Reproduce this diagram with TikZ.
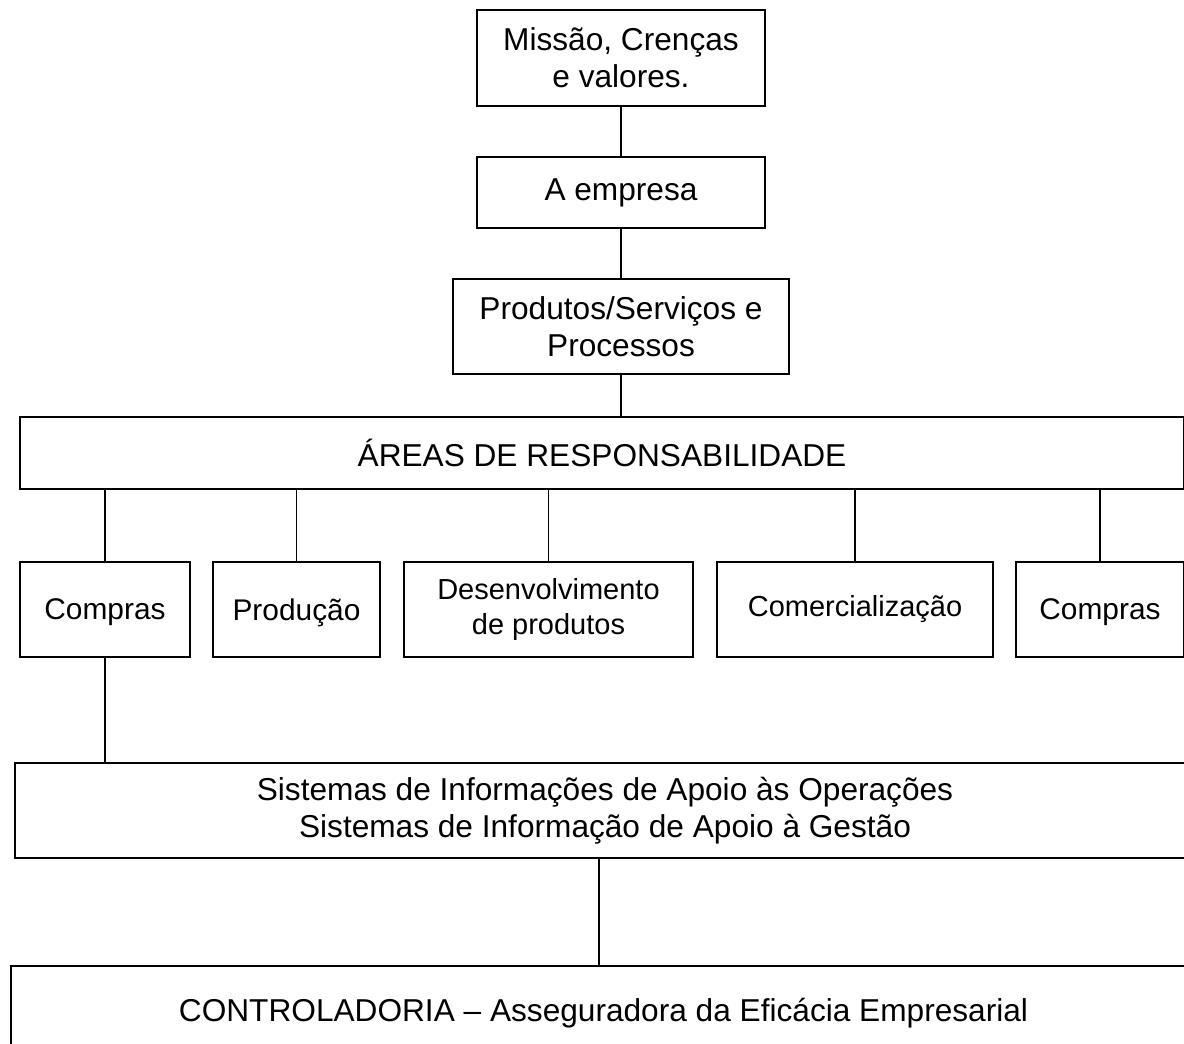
\documentclass[tikz,border=0pt]{standalone}
\usepackage{fontspec}
\setmainfont{Liberation Sans}
\usetikzlibrary{positioning}
\tikzset{conline/.style={draw,line width=1.1pt}}

\begin{document}
\begin{tikzpicture}
  \tikzstyle{abox}=[draw,line width=1.1pt,align=center,inner sep=0pt,font=\fontsize{18}{21}\selectfont]
  \tikzstyle{areabox}=[abox,minimum height=1.9cm,font=\fontsize{17}{19}\selectfont,text depth=0pt]
  \tikzstyle{smallbox}=[abox,minimum height=1.9cm,font=\fontsize{16.5}{19.4}\selectfont]
  \def\chainsep{0.98cm}
  \def\rowy{-12.19}

  \useasboundingbox (0,0) rectangle (23.68,-20.86);

  % top chain
  \node [abox,minimum width=5.76cm,minimum height=1.92cm] (missao) at (12.42,-1.16) {Missão, Crenças\\e valores.};
  \node [abox,minimum width=5.76cm,minimum height=1.42cm,below=\chainsep of missao] (empresa) {A empresa};
  \node [abox,minimum width=6.72cm,minimum height=1.9cm,below=\chainsep of empresa] (produtos) {Produtos/Serviços e\\Processos};
  \node [abox,minimum width=23.28cm,minimum height=1.44cm] (areas) at (12.04,-9.06) {ÁREAS DE RESPONSABILIDADE};

  % areas
  \node [areabox,minimum width=3.4cm] (compras1) at (2.1,\rowy) {Compras};
  \node [areabox,minimum width=3.34cm] (producao) at (5.93,\rowy) {Produção};
  \node [smallbox,minimum width=5.78cm] (desenv) at (10.97,\rowy) {Desenvolvimento\\de produtos};
  \node [smallbox,minimum width=5.52cm] (comerc) at (17.1,\rowy) {Comercialização};
  \node [areabox,minimum width=3.36cm] (compras2) at (22.0,\rowy) {Compras};

  % bottom
  \node [abox,minimum width=23.6cm,minimum height=1.9cm] (sistemas) at (12.1,-16.21) {Sistemas de Informações de Apoio às Operações\\Sistemas de Informação de Apoio à Gestão};
  \node [abox,minimum width=23.7cm,minimum height=1.9cm] (control) at (12.07,-20.27) {CONTROLADORIA -- Asseguradora da Eficácia Empresarial};

  \path [conline] (missao) -- (empresa);
  \path [conline] (empresa) -- (produtos);
  \path [conline] (produtos) -- (produtos|-areas.north);
  \path [conline] (compras1) -- (compras1|-areas.south);
  \path [conline] (producao) -- (producao|-areas.south);
  \path [conline] (desenv) -- (desenv|-areas.south);
  \path [conline] (comerc) -- (comerc|-areas.south);
  \path [conline] (compras2) -- (compras2|-areas.south);
  \path [conline] (compras1) -- (compras1|-sistemas.north);
  \path [conline] ([xshift=-1.2mm]sistemas.south) -- ([xshift=-1.2mm]sistemas.south|-control.north);
\end{tikzpicture}
\end{document}
